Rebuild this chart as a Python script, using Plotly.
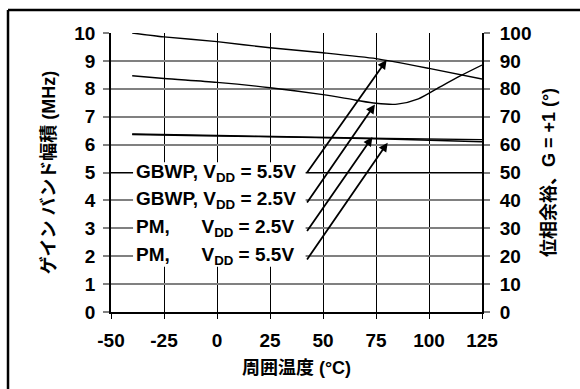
import plotly.graph_objects as go

# Temperature sweeps (°C)
temps_gbwp_55 = [-40, -25, 0, 25, 50, 75, 100, 125]
temps_gbwp_25 = [-40, -25, 0, 25, 50, 65, 75, 85, 95, 105, 115, 125]
temps_pm = [-40, 0, 40, 80, 125]

# Gain bandwidth product (MHz)
gbwp_55 = [10.0, 9.86, 9.69, 9.47, 9.29, 9.08, 8.73, 8.35]
gbwp_25 = [8.47, 8.37, 8.23, 8.04, 7.79, 7.60, 7.48, 7.45, 7.64, 8.06, 8.47, 8.85]

# Phase margin (degrees)
pm_25 = [63.8, 63.3, 62.7, 62.2, 61.8]
pm_55 = [63.6, 63.1, 62.6, 62.0, 61.0]

# Curve labels and the curve points their arrows point at
label_texts = [
    "GBWP, V<sub>DD</sub> = 5.5V",
    "GBWP, V<sub>DD</sub> = 2.5V",
    "PM,\u00a0\u00a0\u00a0\u00a0\u00a0 V<sub>DD</sub> = 2.5V",
    "PM,\u00a0\u00a0\u00a0\u00a0\u00a0 V<sub>DD</sub> = 5.5V",
]
label_rows = [5, 4, 3, 2]
arrow_tail_x = [42, 42, 42, 42]
arrow_tail_y = [4.95, 3.87, 2.85, 1.83]
arrow_head_x = [80, 74.5, 73.3, 80.5]
arrow_head_y = [9.03, 7.44, 6.27, 6.07]

x_ticks = [-50, -25, 0, 25, 50, 75, 100, 125]
y_ticks = list(range(0, 11))
y2_ticks = list(range(0, 101, 10))

FONT = "Liberation Sans, Arial, Noto Sans CJK JP, sans-serif"
GRID_GRAY = "#808080"

fig = go.Figure()
line = dict(color="black", width=1.4)
fig.add_trace(go.Scatter(x=temps_gbwp_55, y=gbwp_55, mode="lines",
                         line=dict(line, shape="spline", smoothing=0.6)))
fig.add_trace(go.Scatter(x=temps_gbwp_25, y=gbwp_25, mode="lines",
                         line=dict(line, shape="spline", smoothing=0.8)))
fig.add_trace(go.Scatter(x=temps_pm, y=pm_25, mode="lines", yaxis="y2",
                         line=dict(line, shape="spline")))
fig.add_trace(go.Scatter(x=temps_pm, y=pm_55, mode="lines", yaxis="y2",
                         line=dict(line, shape="spline")))

tick_font = dict(family=FONT, size=19, color="black", weight="bold")
title_font = dict(family=FONT, size=18, color="black", weight="bold")

fig.update_layout(
    width=580, height=389,
    margin=dict(l=111, r=98, t=33, b=77),
    paper_bgcolor="white", plot_bgcolor="white",
    showlegend=False,
    xaxis=dict(
        range=[-50, 125], tickvals=x_ticks, ticktext=[str(v) for v in x_ticks],
        showgrid=True, gridcolor="black", gridwidth=1,
        showline=True, linecolor="black", linewidth=1.5,
        ticks="outside", ticklen=5, tickcolor="black", tickwidth=1,
        tickfont=tick_font, zeroline=False, ticklabelstandoff=5,
        title=dict(text="周囲温度 (°C)", font=title_font, standoff=12),
    ),
    yaxis=dict(
        range=[0, 10], tickvals=y_ticks,
        showgrid=True, gridcolor=GRID_GRAY, gridwidth=1.6,
        showline=True, linecolor="black", linewidth=1.5,
        ticks="outside", ticklen=6, tickcolor=GRID_GRAY, tickwidth=1.6,
        tickfont=tick_font, zeroline=False, ticklabelstandoff=4,
        title=dict(text="ゲイン バンド幅積 (MHz)", font=title_font, standoff=14),
    ),
    yaxis2=dict(
        range=[0, 100], tickvals=y2_ticks, overlaying="y", side="right",
        showgrid=False, showline=True, linecolor="black", linewidth=2,
        ticks="outside", ticklen=6, tickcolor=GRID_GRAY, tickwidth=1.6,
        tickfont=tick_font, zeroline=False, ticklabelstandoff=6,
        title=dict(text="位相余裕、G = +1 (°)", font=title_font, standoff=12),
    ),
)

shapes = [
    # black grid line at mid scale
    dict(type="line", xref="x", yref="y", x0=-50, x1=125, y0=5, y1=5,
         line=dict(color="black", width=1), layer="between"),
    # white panel behind the curve labels
    dict(type="rect", xref="x", yref="y", x0=-39.6, x1=41.8, y0=1.62, y1=5.37,
         fillcolor="white", line=dict(width=0), layer="between"),
    # figure frame (left and top edges)
    dict(type="line", xref="paper", yref="paper", x0=-0.2776, x1=-0.2776,
         y0=-0.5, y1=1.0825, line=dict(color="black", width=2.5), layer="above"),
    dict(type="line", xref="paper", yref="paper", x0=-0.2776, x1=1.5,
         y0=1.0825, y1=1.0825, line=dict(color="black", width=2.5), layer="above"),
]
fig.update_layout(shapes=shapes)

annotations = []
for text, row in zip(label_texts, label_rows):
    annotations.append(dict(
        x=-39.0, y=row, xref="x", yref="y", text=text, showarrow=False,
        xanchor="left", yanchor="middle",
        font=dict(family=FONT, size=19, color="black", weight="bold"),
    ))
for tx, ty, hx, hy in zip(arrow_tail_x, arrow_tail_y, arrow_head_x, arrow_head_y):
    annotations.append(dict(
        x=hx, y=hy, ax=tx, ay=ty, xref="x", yref="y", axref="x", ayref="y",
        text="", showarrow=True, arrowhead=2, arrowsize=1, arrowwidth=1.8,
        arrowcolor="black", standoff=0, startstandoff=0,
    ))
fig.update_layout(annotations=annotations)

fig.write_html("out.html")
